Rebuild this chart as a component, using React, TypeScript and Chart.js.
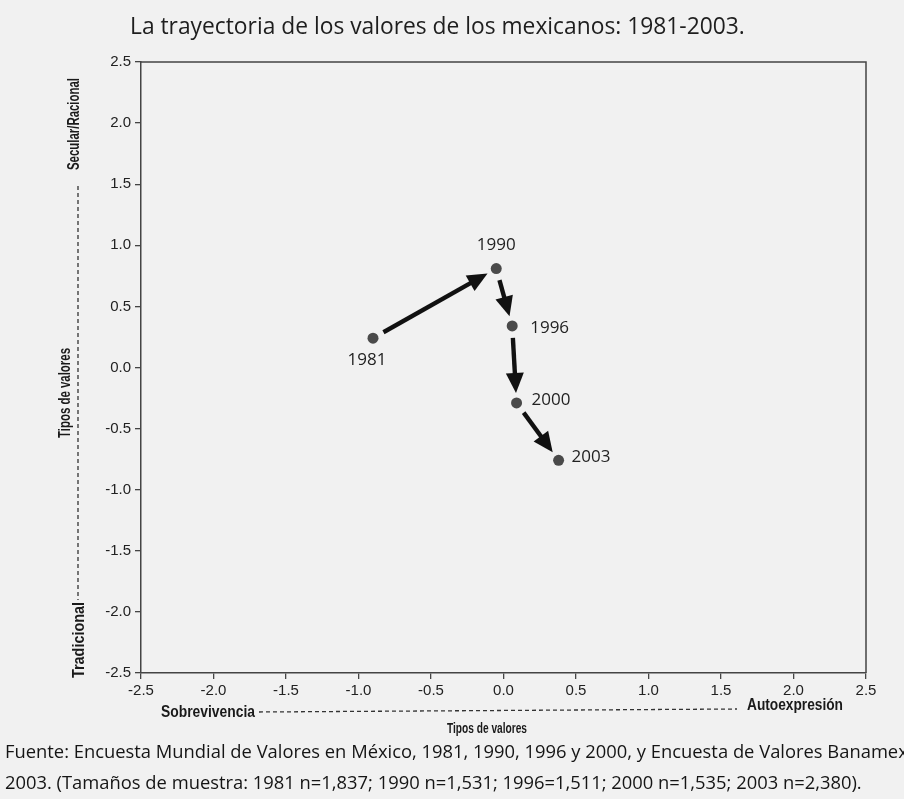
import React, { useEffect, useRef } from "react";
import { Chart, registerables } from "chart.js";

Chart.register(...registerables);

// ---- data ----
const years = ["1981", "1990", "1996", "2000", "2003"];
const xValues = [-0.9, -0.05, 0.06, 0.09, 0.38];
const yValues = [0.24, 0.81, 0.34, -0.29, -0.76];
const xTicks = [-2.5, -2.0, -1.5, -1.0, -0.5, 0.0, 0.5, 1.0, 1.5, 2.0, 2.5];
const yTicks = [-2.5, -2.0, -1.5, -1.0, -0.5, 0.0, 0.5, 1.0, 1.5, 2.0, 2.5];

const titleText = "La trayectoria de los valores de los mexicanos: 1981-2003.";
const axisTitleText = "Tipos de valores";
const yTopText = "Secular/Racional";
const yBottomText = "Tradicional";
const xLeftText = "Sobrevivencia";
const xRightText = "Autoexpresión";
const footerLines = [
  "Fuente: Encuesta Mundial de Valores en México, 1981, 1990, 1996 y 2000, y Encuesta de Valores Banamex",
  "2003. (Tamaños de muestra: 1981 n=1,837; 1990 n=1,531; 1996=1,511; 2000 n=1,535; 2003 n=2,380).",
];

// label placement per point (style, not data)
const labelPlacement = [
  { dx: -6, dy: 22, align: "center" },
  { dx: 0, dy: -23, align: "center" },
  { dx: 18, dy: 2, align: "left" },
  { dx: 15, dy: -3, align: "left" },
  { dx: 13, dy: -3, align: "left" },
];

const HUMAN = '"Open Sans", Lato, sans-serif';
const SANS = '"Liberation Sans", Arial, sans-serif';

function fitFont(ctx: CanvasRenderingContext2D, text: string, width: number, family: string, weight: string) {
  ctx.font = `${weight} 20px ${family}`;
  const w = ctx.measureText(text).width;
  const size = (20 * width) / w;
  ctx.font = `${weight} ${size.toFixed(2)}px ${family}`;
  return size;
}

// draws text at fixed font size, compressed along its direction to a target length
function drawCondensed(
  ctx: CanvasRenderingContext2D,
  text: string,
  x: number,
  y: number,
  width: number,
  size: number,
  align: "left" | "center",
  rotate = false
) {
  ctx.save();
  ctx.translate(x, y);
  if (rotate) ctx.rotate(-Math.PI / 2);
  ctx.font = `bold ${size}px ${SANS}`;
  const w = ctx.measureText(text).width;
  ctx.scale(width / w, 1);
  ctx.textAlign = align;
  ctx.textBaseline = "middle";
  ctx.fillText(text, 0, 0);
  ctx.restore();
}

const decorPlugin = {
  id: "decor",
  beforeDraw(chart: any) {
    const ctx = chart.ctx;
    ctx.save();
    ctx.fillStyle = "#f1f1f1";
    ctx.fillRect(0, 0, chart.width, chart.height);
    ctx.restore();
  },
  afterDatasetsDraw(chart: any) {
    const ctx: CanvasRenderingContext2D = chart.ctx;
    const xs = chart.scales.x;
    const ys = chart.scales.y;
    const pts = xValues.map((x, i) => ({ x: xs.getPixelForValue(x), y: ys.getPixelForValue(yValues[i]) }));
    ctx.save();
    ctx.strokeStyle = "#111";
    ctx.fillStyle = "#111";
    ctx.lineWidth = 4.4;
    ctx.lineCap = "butt";
    const startGap = 12;
    const endGap = 10;
    const headLen = 20;
    const headW = 9;
    for (let i = 0; i < pts.length - 1; i++) {
      const a = pts[i];
      const b = pts[i + 1];
      const dx = b.x - a.x;
      const dy = b.y - a.y;
      const len = Math.hypot(dx, dy);
      const ux = dx / len;
      const uy = dy / len;
      const sx = a.x + ux * startGap;
      const sy = a.y + uy * startGap;
      const ex = b.x - ux * endGap;
      const ey = b.y - uy * endGap;
      ctx.beginPath();
      ctx.moveTo(sx, sy);
      ctx.lineTo(ex - ux * headLen * 0.7, ey - uy * headLen * 0.7);
      ctx.stroke();
      const bx = ex - ux * headLen;
      const by = ey - uy * headLen;
      ctx.beginPath();
      ctx.moveTo(ex, ey);
      ctx.lineTo(bx - uy * headW, by + ux * headW);
      ctx.lineTo(bx + uy * headW, by - ux * headW);
      ctx.closePath();
      ctx.fill();
    }
    // point labels
    ctx.fillStyle = "#222";
    ctx.font = `17px ${HUMAN}`;
    ctx.textBaseline = "middle";
    pts.forEach((p, i) => {
      const pl = labelPlacement[i];
      ctx.textAlign = pl.align as CanvasTextAlign;
      ctx.fillText(years[i], p.x + pl.dx, p.y + pl.dy);
    });
    ctx.restore();
  },
  afterDraw(chart: any) {
    const ctx: CanvasRenderingContext2D = chart.ctx;
    const ca = chart.chartArea;
    ctx.save();
    // frame (top and right)
    ctx.strokeStyle = "#444";
    ctx.lineWidth = 1.5;
    ctx.beginPath();
    ctx.moveTo(ca.left, ca.top);
    ctx.lineTo(ca.right, ca.top);
    ctx.lineTo(ca.right, ca.bottom);
    ctx.stroke();

    // title
    ctx.fillStyle = "#1e1e1e";
    ctx.textBaseline = "middle";
    ctx.textAlign = "left";
    fitFont(ctx, titleText, 615, HUMAN, "normal");
    ctx.fillText(titleText, 130, 27);

    // left vertical annotations
    ctx.fillStyle = "#1a1a1a";
    drawCondensed(ctx, yTopText, 75, 124, 92, 16, "center", true);
    drawCondensed(ctx, axisTitleText, 66, 393, 90, 16, "center", true);
    drawCondensed(ctx, yBottomText, 80, 640, 76, 16, "center", true);

    ctx.strokeStyle = "#333";
    ctx.lineWidth = 1.3;
    ctx.setLineDash([4, 3]);
    ctx.beginPath();
    ctx.moveTo(78, 186);
    ctx.lineTo(78, 600);
    ctx.stroke();
    ctx.beginPath();
    ctx.moveTo(259, 712);
    ctx.lineTo(737, 709);
    ctx.stroke();
    ctx.setLineDash([]);

    // bottom annotations
    drawCondensed(ctx, xLeftText, 161, 713, 94, 16, "left");
    drawCondensed(ctx, xRightText, 747, 706, 96, 16, "left");
    drawCondensed(ctx, axisTitleText, 487, 729, 80, 15, "center");

    // footer
    ctx.textAlign = "left";
    ctx.textBaseline = "middle";
    ctx.fillStyle = "#151515";
    const size = fitFont(ctx, footerLines[1], 857, HUMAN, "normal");
    ctx.font = `normal ${size.toFixed(2)}px ${HUMAN}`;
    ctx.fillText(footerLines[0], 5, 753);
    ctx.fillText(footerLines[1], 5, 784);
    ctx.restore();
  },
};

export default function App() {
  const ref = useRef<HTMLCanvasElement | null>(null);
  useEffect(() => {
    if (!ref.current) return;
    const tickFont = { family: "Liberation Sans", size: 15 };
    const chart = new Chart(ref.current, {
      type: "scatter",
      data: {
        datasets: [
          {
            data: xValues.map((x, i) => ({ x, y: yValues[i] })),
            pointRadius: 5.5,
            pointBackgroundColor: "#4a4a4a",
            pointBorderWidth: 0,
            showLine: false,
          },
        ],
      },
      options: {
        responsive: false,
        animation: false,
        events: [],
        layout: { padding: { left: 0, top: 62, right: 38, bottom: 0 } },
        plugins: { legend: { display: false }, tooltip: { enabled: false }, title: { display: false } },
        scales: {
          x: {
            type: "linear",
            min: -2.5,
            max: 2.5,
            afterFit: (s: any) => {
              s.height = 126;
            },
            afterBuildTicks: (s: any) => {
              s.ticks = xTicks.map((v) => ({ value: v }));
            },
            ticks: {
              color: "#222",
              font: tickFont,
              padding: 3,
              maxRotation: 0,
              autoSkip: false,
              callback: (v: any) => Number(v).toFixed(1),
            },
            grid: { drawOnChartArea: false, drawTicks: true, tickLength: 6, color: "#444", lineWidth: 1.3 },
            border: { display: true, color: "#444", width: 1.5 },
          },
          y: {
            type: "linear",
            min: -2.5,
            max: 2.5,
            afterFit: (s: any) => {
              s.width = 141;
            },
            afterBuildTicks: (s: any) => {
              s.ticks = yTicks.map((v) => ({ value: v }));
            },
            ticks: {
              color: "#222",
              font: tickFont,
              padding: 4,
              autoSkip: false,
              callback: (v: any) => Number(v).toFixed(1),
            },
            grid: { drawOnChartArea: false, drawTicks: true, tickLength: 6, color: "#444", lineWidth: 1.3 },
            border: { display: true, color: "#444", width: 1.5 },
          },
        },
      },
      plugins: [decorPlugin],
    } as any);
    return () => chart.destroy();
  }, []);
  return (
    <div style={{ position: "absolute", left: 0, top: 0, width: 904, height: 799 }}>
      <canvas ref={ref} width={904} height={799} style={{ width: 904, height: 799, display: "block" }} />
    </div>
  );
}
